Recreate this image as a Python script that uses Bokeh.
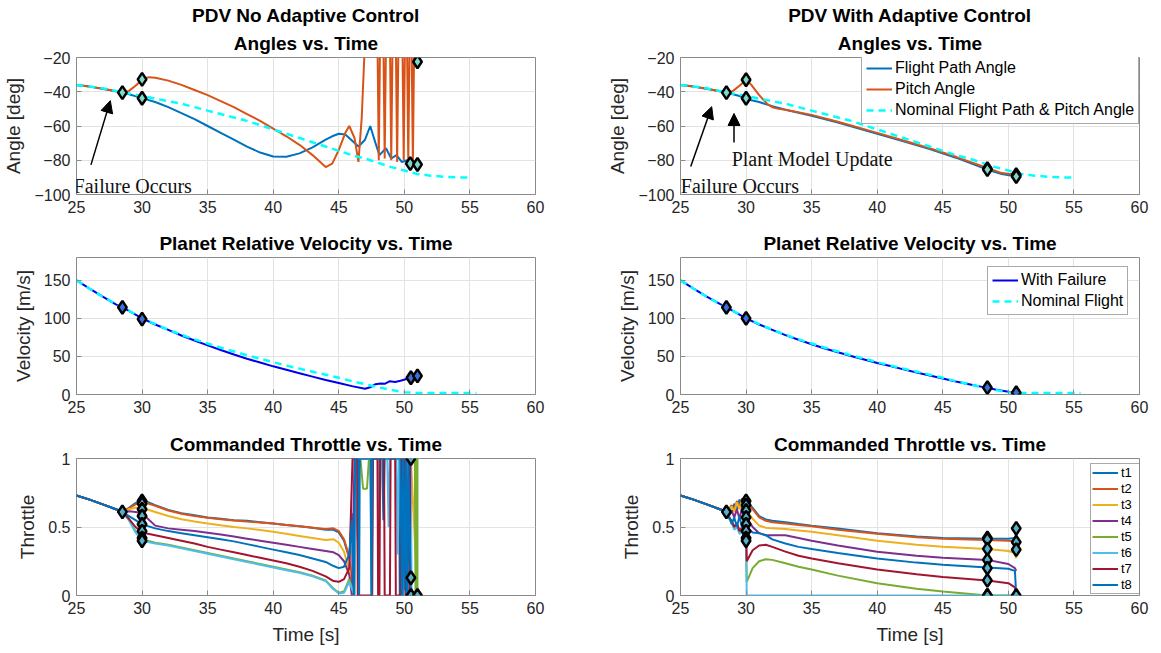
from bokeh.plotting import figure
from bokeh.layouts import gridplot
from bokeh.models import (Range1d, FixedTicker, Legend, LegendItem, Label, Arrow,
                          NormalHead, Title)
from bokeh.embed import file_html
from bokeh.resources import INLINE

# ---------------- data ----------------
x_ticks = [25, 30, 35, 40, 45, 50, 55, 60]
angle_ticks = [-100, -80, -60, -40, -20]
vel_ticks = [0, 50, 100, 150]
thr_ticks = [0, 0.5, 1]

# nominal angle (both panels)
nom_t = [25, 26, 27, 28, 29, 30, 31, 32, 33, 34, 35, 36, 37, 38, 39, 40, 41, 42, 43, 44,
         45, 46, 47, 48, 49, 50, 51, 52, 53, 54, 55]
nom_angle = [-36, -37, -38, -39.5, -41, -42.5, -44, -45.5, -47, -49, -51, -53, -55, -57, -59.5,
             -62, -64.5, -67, -69.5, -72, -74.5, -77, -79, -81.5, -84, -86, -88, -89, -89.6,
             -90, -90]

# no adaptive control: flight path angle
na_fpa_t = [25, 26, 27, 28, 28.5, 29, 30, 31, 32, 33, 34, 35, 36, 37, 38, 39, 40, 41, 42, 43,
            44, 44.5, 45, 45.5, 46, 46.5, 47, 47.4, 47.8, 48.1, 48.6, 49.0, 49.4, 49.8, 50.2,
            50.5]
na_fpa = [-36, -37, -38.3, -39.7, -40.5, -41.5, -43.7, -46, -49, -52.5, -56, -60, -64, -68,
          -72, -75.5, -77.8, -78, -76, -72.5, -68, -66, -64.5, -65, -68.5, -72, -68, -60, -70,
          -77, -73, -79, -77, -81, -80, -82]
# no adaptive control: pitch angle
na_pitch_t = [25, 26, 27, 28, 28.5, 29, 29.5, 30, 30.5, 31, 32, 33, 34, 35, 36, 37, 38, 39, 40,
              41, 42, 43, 43.5, 44, 44.5, 45, 45.5, 45.8, 46.2, 46.5, 46.75, 47.0, 47.95, 48.05,
              48.15, 48.4, 48.5, 48.6, 48.9, 49.0, 49.1, 49.35, 49.45, 49.55, 49.85, 49.95,
              50.05, 50.2, 50.3, 50.4, 50.55, 50.65, 50.75, 51.0]
na_pitch = [-36, -37, -38.3, -39.7, -40.5, -39.5, -36.5, -33, -31.5, -31.8, -33.5, -36, -39,
            -42, -45.5, -49, -53, -57, -61.5, -66, -71, -77, -80.5, -84, -82, -74, -64, -60,
            -67, -81, -55, -10, -10, -80, -10, -10, -79, -10, -10, -80, -10, -10, -81, -10,
            -10, -80, -10, -10, -81, -10, -10, -82, -10, -22.5]
na_mark_t = [28.5, 30, 30, 50.45, 51, 51]
na_mark_y = [-40.5, -32.8, -43.8, -82, -82.5, -22.5]

# with adaptive control
ad_t = [25, 26, 27, 28, 28.5, 29, 29.5, 30, 30.4, 31, 31.6, 32, 32.5, 33, 35, 37, 40, 42, 44,
        46, 48.4, 49.5, 50.6]
ad_fpa = [-36, -37, -38.3, -39.7, -40.5, -41.5, -42.5, -43.8, -45, -46, -47.5, -48.5, -49.5,
          -50.5, -54, -58, -64.5, -69, -73.5, -78.5, -85.5, -88, -89.5]
ad_pitch = [-36, -37, -38.3, -39.7, -40.5, -39.5, -36.5, -33, -36, -42, -47, -49, -50, -50.5,
            -53.5, -57.5, -64, -68.5, -73, -78, -84.5, -87.5, -88.5]
ad_mark_t = [28.5, 30, 30, 48.4, 48.4, 50.6, 50.6]
ad_mark_y = [-40.5, -33, -43.8, -85, -85.5, -88.5, -89.5]

# velocity
vnom_t = [25, 26, 27, 28, 29, 30, 31, 32, 33, 34, 35, 36, 37, 38, 39, 40, 41, 42, 43, 44, 45,
          46, 47, 48, 49, 50, 51, 52, 53, 54, 55, 55.5]
vnom = [150, 139, 128.5, 119, 110, 100.5, 92.5, 85, 78.5, 72.5, 67, 61.5, 56.5, 51.5, 47, 42.5,
        38, 34, 30, 26, 22, 17.5, 13.5, 9.5, 6, 3, 2, 2, 2, 2, 2, 2]
vna_t = [25, 26, 27, 28, 28.5, 29, 30, 31, 32, 33, 34, 35, 36, 37, 38, 39, 40, 41, 42, 43, 44,
         45, 46, 47, 47.4, 47.8, 48.2, 48.5, 48.9, 49.3, 49.7, 50.1, 50.5, 51]
vna = [150, 139, 128.5, 118.5, 114.5, 110, 100, 92, 85, 77.5, 71, 64.5, 58.5, 52.5, 47, 42, 37,
       32.5, 28, 23.5, 19, 15, 11, 7.5, 9.5, 13.5, 14.5, 14, 17.5, 16.5, 18, 20, 22, 24.5]
vna_mark_t = [28.5, 30, 50.5, 51]
vna_mark_y = [114.5, 99, 22, 24.5]
vad_t = [25, 26, 27, 28, 28.5, 29, 30, 31, 32, 33, 34, 35, 36, 37, 38, 39, 40, 41, 42, 43, 44,
         45, 46, 47, 48, 48.4, 49, 50, 50.6]
vad = [150, 139, 128.5, 119, 114.5, 110, 100, 92, 85, 78, 72, 66, 60.5, 55.5, 50.5, 46, 41.5,
       37.5, 33, 29, 25, 21, 17, 13.5, 10, 9, 6.5, 3.5, 2]
vad_mark_t = [28.5, 30, 48.4, 50.6]
vad_mark_y = [114.5, 100, 9, 2.5]

# throttle, common before failure
thr_pre_t = [25, 26, 27, 28, 28.5]
thr_pre = [0.73, 0.70, 0.665, 0.63, 0.61]
thr_names = ["t1", "t2", "t3", "t4", "t5", "t6", "t7", "t8"]

# throttle without adaptive control
tl_t = [29, 29.5, 30, 31, 32, 33, 34, 35, 36, 37, 38, 39, 40, 41, 42, 43, 44, 44.6, 45.0,
        45.4, 45.8]
tl_t1 = [0.64, 0.675, 0.70, 0.66, 0.625, 0.6, 0.585, 0.57, 0.56, 0.55, 0.545, 0.535, 0.525,
         0.515, 0.505, 0.495, 0.48, 0.48, 0.46, 0.4, 0.27]
tl_t2 = [0.635, 0.665, 0.685, 0.655, 0.62, 0.597, 0.58, 0.567, 0.557, 0.548, 0.54, 0.533,
         0.525, 0.515, 0.505, 0.495, 0.485, 0.49, 0.47, 0.41, 0.28]
tl_t3 = [0.63, 0.64, 0.64, 0.61, 0.58, 0.557, 0.54, 0.525, 0.512, 0.5, 0.49, 0.478, 0.465,
         0.45, 0.435, 0.42, 0.405, 0.41, 0.385, 0.32, 0.18]
tl_t4 = [0.615, 0.61, 0.60, 0.51, 0.49, 0.48, 0.47, 0.458, 0.445, 0.43, 0.415, 0.4, 0.385,
         0.37, 0.355, 0.34, 0.325, 0.315, 0.295, 0.25, 0.15]
tl_t5 = [0.55, 0.47, 0.41, 0.385, 0.37, 0.35, 0.33, 0.31, 0.29, 0.27, 0.25, 0.23, 0.21, 0.19,
         0.17, 0.145, 0.11, 0.05, 0.02, 0.03, 0.12]
tl_t6 = [0.55, 0.46, 0.40, 0.38, 0.365, 0.345, 0.325, 0.305, 0.285, 0.265, 0.245, 0.225,
         0.205, 0.185, 0.165, 0.14, 0.105, 0.045, 0.015, 0.02, 0.1]
tl_t7 = [0.56, 0.5, 0.46, 0.44, 0.42, 0.4, 0.38, 0.355, 0.335, 0.315, 0.295, 0.275, 0.255,
         0.235, 0.21, 0.18, 0.14, 0.105, 0.1, 0.12, 0.2]
tl_t8 = [0.58, 0.55, 0.52, 0.49, 0.47, 0.455, 0.44, 0.425, 0.41, 0.395, 0.375, 0.355, 0.335,
         0.315, 0.295, 0.27, 0.245, 0.215, 0.2, 0.21, 0.3]
# erratic part after ~46 s
tc1_t = [46.0, 46.1, 46.3, 46.35, 47.4, 47.5, 47.6, 48.3, 48.4, 48.5, 49.6, 49.65, 49.75,
         49.85, 49.95, 50.05, 50.15, 50.25, 50.35, 50.5]
tc1 = [0.6, 0.0, 0.55, 1.0, 1.0, 0.0, 1.0, 1.0, 0.55, 1.0, 1.0, 0.0, 1.0, 0.0, 1.0, 0.0, 1.0,
       0.0, 1.0, 0.13]
tc2_t = [46.1, 46.25, 50.5]
tc2 = [0.0, 1.0, 1.0]
tc3_t = [46.1, 46.3, 48.0, 48.05, 48.1, 50.5, 51.0]
tc3 = [0.0, 1.0, 1.0, 0.0, 1.0, 1.0, 0.0]
tc4_t = [46.0, 46.2, 50.5, 50.5]
tc4 = [0.0, 1.0, 1.0, 0.0]
tc5_t = [46.2, 46.3, 46.65, 46.85, 47.15, 47.3, 50.8, 50.85, 50.9, 50.95, 51.0, 51.0]
tc5 = [0.0, 1.0, 1.0, 0.78, 0.78, 1.0, 1.0, 0.0, 1.0, 0.0, 1.0, 0.0]
tc6_t = [46.2, 46.35, 48.0, 48.1, 48.2, 48.7, 48.8, 48.9, 49.4, 49.5, 49.6, 50.5, 50.55]
tc6 = [0.0, 1.0, 1.0, 0.55, 1.0, 1.0, 0.5, 1.0, 1.0, 0.3, 1.0, 1.0, 0.0]
tc7_t = [46.05, 46.4, 46.45, 47.55, 47.6, 47.95, 48.0, 48.1, 48.15, 48.45, 48.5, 48.9, 48.95,
         49.3, 49.35, 49.7, 49.75, 50.05, 50.1, 50.4, 50.45, 50.5]
tc7 = [1.0, 1.0, 0.0, 0.0, 1.0, 1.0, 0.0, 0.0, 1.0, 1.0, 0.0, 0.0, 1.0, 1.0, 0.0, 0.0, 1.0,
       1.0, 0.0, 0.0, 1.0, 1.0]
tc8_t = [46.0, 46.15, 46.25, 46.5, 46.55, 46.6, 47.45, 47.5, 47.55, 49.7, 49.8, 49.9, 50.0,
         50.1, 50.2, 50.3, 50.5]
tc8 = [0.55, 0.0, 1.0, 1.0, 0.0, 1.0, 1.0, 0.0, 1.0, 1.0, 0.0, 1.0, 0.0, 1.0, 0.0, 1.0, 0.0]
tl_mark_t = [28.5, 30, 30, 30, 30, 30, 30, 30, 30, 50.5, 50.5, 50.5, 51]
tl_mark_y = [0.61, 0.69, 0.67, 0.63, 0.58, 0.52, 0.47, 0.42, 0.40, 1.0, 0.13, 0.0, 0.0]

# throttle with adaptive control
tr_noise_t = [28.7, 28.9, 29.1, 29.3, 29.5, 29.7, 29.9, 30.0]
tr_post_t = [30.05, 30.5, 31, 31.5, 32, 33, 34, 35, 37, 40, 43, 45, 48.4, 50, 50.5, 50.6]
tr_t1 = [0.64, 0.60, 0.67, 0.62, 0.70, 0.63, 0.72, 0.70,
         0.69, 0.64, 0.58, 0.555, 0.545, 0.535, 0.522, 0.51, 0.49, 0.455, 0.43, 0.42, 0.415,
         0.415, 0.42, 0.45]
tr_t2 = [0.63, 0.66, 0.62, 0.69, 0.64, 0.71, 0.65, 0.69,
         0.68, 0.63, 0.57, 0.545, 0.535, 0.525, 0.515, 0.505, 0.48, 0.45, 0.425, 0.415, 0.405,
         0.4, 0.395, 0.39]
tr_t3 = [0.62, 0.65, 0.61, 0.68, 0.63, 0.70, 0.66, 0.62,
         0.62, 0.56, 0.51, 0.495, 0.49, 0.485, 0.475, 0.465, 0.44, 0.4, 0.37, 0.355, 0.34,
         0.325, 0.31, 0.27]
tr_t4 = [0.58, 0.62, 0.57, 0.63, 0.56, 0.64, 0.58, 0.57,
         0.57, 0.5, 0.455, 0.44, 0.44, 0.44, 0.42, 0.4, 0.365, 0.32, 0.29, 0.275, 0.26, 0.23,
         0.2, 0.18]
tr_t5 = [0.57, 0.55, 0.50, 0.52, 0.46, 0.48, 0.43, 0.42,
         0.1, 0.2, 0.25, 0.265, 0.26, 0.235, 0.21, 0.19, 0.145, 0.09, 0.05, 0.03, 0.0, 0.0,
         0.0, 0.0]
tr_t6 = [0.56, 0.53, 0.48, 0.50, 0.45, 0.46, 0.41, 0.40,
         0.0, 0.0, 0.0, 0.0, 0.0, 0.0, 0.0, 0.0, 0.0, 0.0, 0.0, 0.0, 0.0, 0.0, 0.0, 0.0]
tr_t7 = [0.57, 0.54, 0.50, 0.53, 0.47, 0.50, 0.45, 0.47,
         0.25, 0.33, 0.365, 0.37, 0.355, 0.32, 0.29, 0.27, 0.235, 0.19, 0.155, 0.135, 0.11,
         0.09, 0.06, 0.0]
tr_t8 = [0.58, 0.52, 0.57, 0.50, 0.58, 0.49, 0.56, 0.52,
         0.5, 0.46, 0.455, 0.44, 0.41, 0.38, 0.355, 0.34, 0.31, 0.27, 0.24, 0.225, 0.205, 0.195,
         0.18, 0.0]
tr_mark_t = [28.5, 30, 30, 30, 30, 30, 30, 30, 30, 48.4, 48.4, 48.4, 48.4, 48.4, 48.4, 48.4,
             48.4, 50.6, 50.6, 50.6, 50.6]
tr_mark_y = [0.61, 0.69, 0.66, 0.62, 0.57, 0.52, 0.47, 0.42, 0.40, 0.42, 0.41, 0.34, 0.26,
             0.2, 0.11, 0.0, 0.0, 0.49, 0.39, 0.335, 0.0]

# annotation anchors (data units)
fail_text_left = (24.78, -94.8)
fail_text_right = (25.02, -94.8)
fail_arrow_left = (26.1, -82.7, 27.58, -45.2)
fail_arrow_right = (25.78, -83.7, 27.38, -48.7)
plant_text = (28.9, -79.2)
plant_arrow = (29.08, -69.6, 29.08, -52.7)

# ---------------- style ----------------
SANS = "Liberation Sans"
SERIF = "Liberation Serif"
TXT = "#262626"
FRAME = "#8a8a8a"
C_BLUE = "#0072BD"
C_ORANGE = "#D95319"
C_CYAN = "#00FFFF"
C_VBLUE = "#0000EE"
T_COLORS = ["#0072BD", "#D95319", "#EDB120", "#7E2F8E", "#77AC30", "#4DBEEE", "#A2142F",
            "#0072BD"]


def make_fig(w, h, bl, br, bt, bb, yr, yticks, ylabel, titles, xlabel=None, overrides=None):
    p = figure(width=w, height=h, x_range=Range1d(25, 60), y_range=Range1d(*yr),
               output_backend="svg", toolbar_location=None, title=None,
               min_border_left=bl, min_border_right=br, min_border_top=bt,
               min_border_bottom=bb)
    p.background_fill_color = "white"
    p.border_fill_color = "white"
    p.outline_line_color = FRAME
    p.outline_line_width = 1
    p.xaxis.ticker = FixedTicker(ticks=x_ticks)
    p.yaxis.ticker = FixedTicker(ticks=yticks)
    for ax in (p.xaxis[0], p.yaxis[0]):
        ax.axis_line_color = None
        ax.major_tick_in = 5
        ax.major_tick_out = 0
        ax.major_tick_line_color = FRAME
        ax.minor_tick_line_color = None
        ax.major_label_text_font = SANS
        ax.major_label_text_font_size = "16px"
        ax.major_label_text_color = TXT
        ax.major_label_standoff = 6
        ax.axis_label_text_font = SANS
        ax.axis_label_text_font_size = "19px"
        ax.axis_label_text_font_style = "normal"
        ax.axis_label_text_color = TXT
        ax.axis_label_standoff = 7
    p.yaxis.axis_label = ylabel
    if xlabel:
        p.xaxis.axis_label = xlabel
    if overrides:
        p.yaxis.major_label_overrides = overrides
    p.grid.grid_line_color = "#e3e3e3"
    p.grid.grid_line_width = 1
    for i, t in enumerate(titles):
        p.add_layout(Title(text=t, align="center", text_font=SANS, text_font_size="19px",
                           text_font_style="bold", text_color="black",
                           standoff=8 if i == 0 else 1), "above")
    return p


def markers(p, xs, ys, fill):
    p.scatter(xs, ys, marker="diamond", size=13, fill_color=fill, line_color="black",
              line_width=2.5)


def style_legend(lg, font="16px", row=18, spacing=3, padding=4):
    lg.border_line_color = "#555555"
    lg.border_line_width = 1
    lg.background_fill_color = "white"
    lg.background_fill_alpha = 1
    lg.label_text_font = SANS
    lg.label_text_font_size = font
    lg.label_text_color = "black"
    lg.glyph_width = 26
    lg.glyph_height = row
    lg.label_height = row
    lg.label_standoff = 3
    lg.padding = padding
    lg.spacing = spacing
    lg.margin = 0


LW = 2

# ---------- row 1 ----------
p1 = make_fig(600, 220, 76, 65, 57, 26, (-100, -20), angle_ticks, "Angle [deg]",
              ["Angles vs. Time", "PDV No Adaptive Control"])
p1.line(na_fpa_t, na_fpa, line_color=C_BLUE, line_width=LW)
p1.line(na_pitch_t, na_pitch, line_color=C_ORANGE, line_width=LW)
p1.line(nom_t, nom_angle, line_color=C_CYAN, line_width=2.5, line_dash="7 5")
markers(p1, na_mark_t, na_mark_y, "#7fd8c8")
p1.add_layout(Label(x=fail_text_left[0], y=fail_text_left[1], text="Failure Occurs",
                    text_font=SERIF, text_font_size="20px", text_color="#111111",
                    text_baseline="alphabetic"))
p1.add_layout(Arrow(end=NormalHead(size=12, fill_color="black", line_color="black"),
                    x_start=fail_arrow_left[0], y_start=fail_arrow_left[1],
                    x_end=fail_arrow_left[2], y_end=fail_arrow_left[3],
                    line_color="black", line_width=1.5))

p2 = make_fig(561, 220, 80, 22, 57, 26, (-100, -20), angle_ticks, "Angle [deg]",
              ["Angles vs. Time", "PDV With Adaptive Control"])
r_fpa = p2.line(ad_t, ad_fpa, line_color=C_BLUE, line_width=LW)
r_pitch = p2.line(ad_t, ad_pitch, line_color=C_ORANGE, line_width=LW)
r_nom = p2.line(nom_t, nom_angle, line_color=C_CYAN, line_width=2.5, line_dash="7 5")
markers(p2, ad_mark_t, ad_mark_y, "#7fd8c8")
p2.add_layout(Label(x=fail_text_right[0], y=fail_text_right[1], text="Failure Occurs",
                    text_font=SERIF, text_font_size="20px", text_color="#111111",
                    text_baseline="alphabetic"))
p2.add_layout(Label(x=plant_text[0], y=plant_text[1], text="Plant Model Update",
                    text_font=SERIF, text_font_size="20px", text_color="#111111",
                    text_baseline="alphabetic"))
p2.add_layout(Arrow(end=NormalHead(size=12, fill_color="black", line_color="black"),
                    x_start=fail_arrow_right[0], y_start=fail_arrow_right[1],
                    x_end=fail_arrow_right[2], y_end=fail_arrow_right[3],
                    line_color="black", line_width=1.5))
p2.add_layout(Arrow(end=NormalHead(size=12, fill_color="black", line_color="black"),
                    x_start=plant_arrow[0], y_start=plant_arrow[1],
                    x_end=plant_arrow[2], y_end=plant_arrow[3],
                    line_color="black", line_width=1.5))
lg1 = Legend(items=[LegendItem(label="Flight Path Angle", renderers=[r_fpa]),
                    LegendItem(label="Pitch Angle", renderers=[r_pitch]),
                    LegendItem(label="Nominal Flight Path & Pitch Angle", renderers=[r_nom])],
             location=(181, 70))
style_legend(lg1)
p2.add_layout(lg1)

# ---------- row 2 ----------
p3 = make_fig(600, 200, 76, 65, 37, 26, (0, 180), vel_ticks, "Velocity [m/s]",
              ["Planet Relative Velocity vs. Time"])
p3.line(vna_t, vna, line_color=C_VBLUE, line_width=LW)
p3.line(vnom_t, vnom, line_color=C_CYAN, line_width=2.5, line_dash="7 5")
markers(p3, vna_mark_t, vna_mark_y, "#3a6fd8")

p4 = make_fig(561, 200, 80, 22, 37, 26, (0, 180), vel_ticks, "Velocity [m/s]",
              ["Planet Relative Velocity vs. Time"])
r_vf = p4.line(vad_t, vad, line_color=C_VBLUE, line_width=LW)
r_vn = p4.line(vnom_t, vnom, line_color=C_CYAN, line_width=2.5, line_dash="7 5")
markers(p4, vad_mark_t, vad_mark_y, "#3a6fd8")
lg2 = Legend(items=[LegendItem(label="With Failure", renderers=[r_vf]),
                    LegendItem(label="Nominal Flight", renderers=[r_vn])],
             location=(307, 79))
style_legend(lg2)
p4.add_layout(lg2)

# ---------- row 3 ----------
thr_over = {0: "0", 0.5: "0.5", 1: "1"}
p5 = make_fig(600, 233, 76, 65, 38, 58, (0, 1), thr_ticks, "Throttle",
              ["Commanded Throttle vs. Time"], xlabel="Time [s]", overrides=thr_over)
left_series = [(tl_t1, tc1_t, tc1), (tl_t2, tc2_t, tc2), (tl_t3, tc3_t, tc3),
               (tl_t4, tc4_t, tc4), (tl_t5, tc5_t, tc5), (tl_t6, tc6_t, tc6),
               (tl_t7, tc7_t, tc7), (tl_t8, tc8_t, tc8)]
for (smooth, ct, cv), col in zip(left_series, T_COLORS):
    p5.line(thr_pre_t + tl_t + ct, thr_pre + smooth + cv, line_color=col, line_width=LW)
markers(p5, tl_mark_t, tl_mark_y, "#58b0c8")

p6 = make_fig(561, 233, 80, 22, 38, 58, (0, 1), thr_ticks, "Throttle",
              ["Commanded Throttle vs. Time"], xlabel="Time [s]", overrides=thr_over)
right_series = [tr_t1, tr_t2, tr_t3, tr_t4, tr_t5, tr_t6, tr_t7, tr_t8]
items = []
for name, vals, col in zip(thr_names, right_series, T_COLORS):
    r = p6.line(thr_pre_t + tr_noise_t + tr_post_t, thr_pre + vals, line_color=col,
                line_width=LW)
    items.append(LegendItem(label=name, renderers=[r]))
markers(p6, tr_mark_t, tr_mark_y, "#58b0c8")
lg3 = Legend(items=items, location=(410, 1))
style_legend(lg3, font="13px", row=13, spacing=1, padding=1)
p6.add_layout(lg3)

grid = gridplot([[p1, p2], [p3, p4], [p5, p6]], toolbar_location=None)

open("out.html", "w").write(file_html(grid, INLINE))
